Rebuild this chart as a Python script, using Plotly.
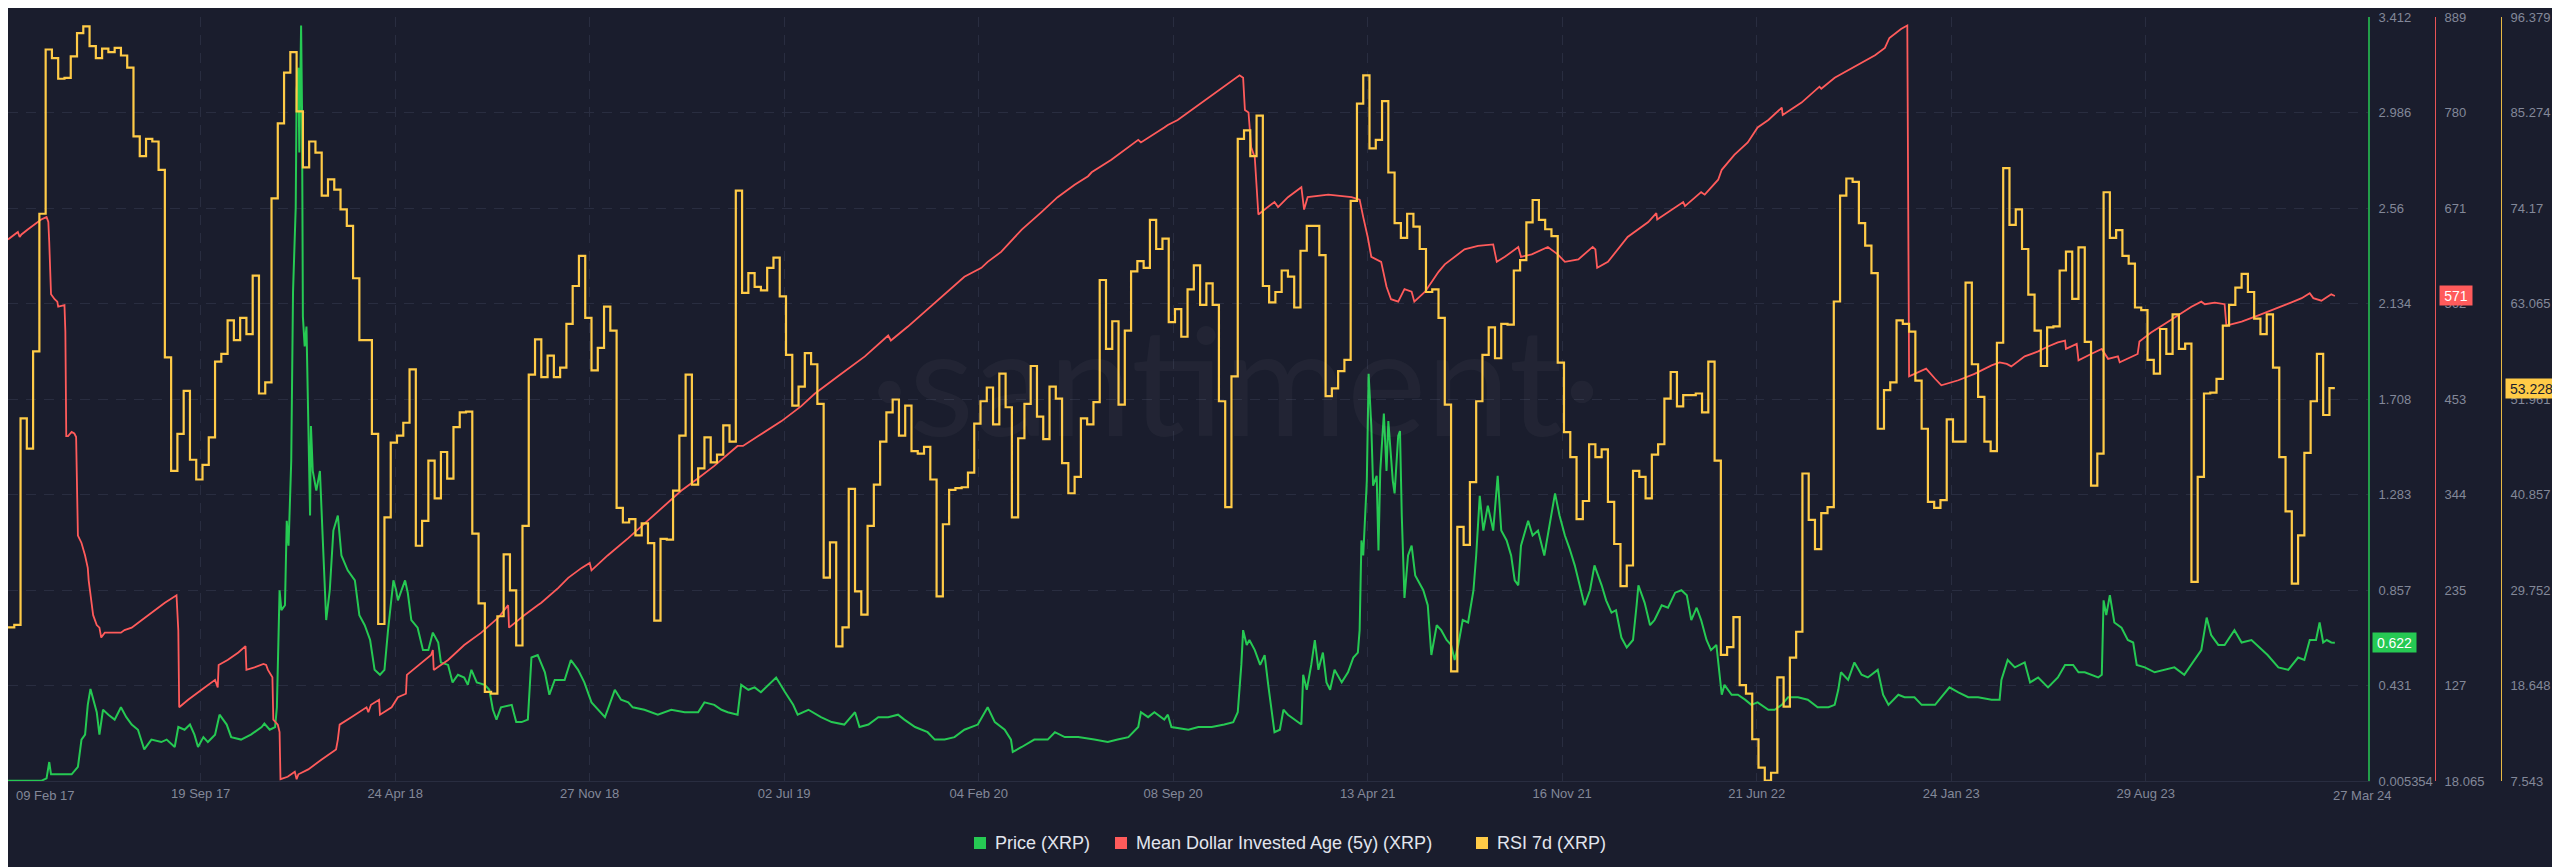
import numpy as np
import pandas as pd
import plotly.graph_objects as go

# ---------------- data ----------------
START = "2017-02-16"          # first sample of the weekly / daily grids
FIRST_LABEL = "09 Feb 17"
LAST_LABEL = "27 Mar 24"

# RSI 7d (XRP): weekly step values
rsi_weekly = [
    25.4, 25.7, 49.7, 46.2, 57.5, 73.5, 92.6, 91.6, 89.2, 89.3,
    91.8, 94.5, 95.3, 93.0, 91.6, 92.7, 92.3, 92.8, 91.9, 90.5,
    82.5, 80.2, 82.2, 81.9, 78.6, 56.8, 43.6, 47.9, 52.9, 44.9,
    42.6, 44.3, 47.5, 56.3, 57.2, 61.1, 58.8, 61.4, 59.5, 66.3,
    52.6, 53.9, 75.3, 84.0, 89.9, 92.3, 85.4, 78.9, 81.9, 80.6,
    75.6, 77.5, 76.3, 74.0, 72.1, 66.0, 58.8, 58.8, 47.9, 25.8,
    38.2, 46.9, 47.7, 49.2, 55.4, 34.9, 37.8, 44.8, 40.4, 45.8,
    42.7, 48.7, 50.4, 50.5, 36.3, 28.2, 17.9, 17.7, 26.7, 33.9,
    29.7, 23.3, 37.2, 54.8, 58.9, 54.5, 57.0, 54.5, 55.6, 60.7,
    65.1, 68.6, 61.4, 55.3, 57.9, 62.7, 59.9, 39.3, 37.6, 38.0,
    36.1, 37.5, 35.2, 26.2, 35.7, 35.6, 41.3, 47.7, 54.8, 42.0,
    43.9, 47.5, 44.6, 45.5, 48.9, 47.0, 76.2, 64.3, 66.6, 65.0,
    64.6, 67.2, 68.4, 63.9, 57.1, 51.2, 53.4, 57.3, 56.0, 51.4,
    31.2, 35.3, 23.2, 25.4, 41.5, 29.6, 26.9, 37.2, 42.0, 47.0,
    50.4, 51.9, 47.7, 51.2, 45.9, 45.6, 46.4, 42.6, 29.0, 37.4,
    41.4, 41.6, 41.7, 43.4, 49.1, 51.7, 53.3, 49.0, 54.9, 51.0,
    38.2, 47.4, 51.4, 55.8, 49.9, 47.3, 53.4, 52.0, 44.5, 41.0,
    42.9, 49.7, 49.0, 51.6, 65.8, 57.8, 61.0, 51.3, 59.9, 66.8,
    68.0, 67.2, 72.8, 69.4, 70.6, 60.9, 62.4, 59.2, 64.7, 67.5,
    62.9, 65.4, 62.9, 51.7, 39.4, 54.6, 82.2, 83.2, 80.2, 84.9,
    65.1, 63.2, 64.4, 66.9, 66.2, 62.6, 69.2, 72.1, 72.1, 68.7,
    52.3, 53.2, 55.2, 56.5, 75.0, 86.3, 89.6, 81.1, 82.1, 86.6,
    78.3, 72.4, 70.7, 73.5, 72.0, 69.4, 64.4, 64.7, 61.4, 51.3,
    20.3, 37.1, 35.0, 42.3, 51.7, 57.1, 60.3, 56.7, 60.7, 60.6,
    66.9, 68.1, 72.5, 75.1, 72.8, 71.7, 70.9, 56.2, 48.1, 45.2,
    38.0, 40.1, 46.7, 45.2, 46.1, 40.0, 35.1, 30.2, 32.6, 43.6,
    42.9, 40.4, 45.5, 46.7, 52.0, 55.1, 51.1, 52.4, 52.4, 52.6,
    50.4, 56.3, 44.8, 22.2, 23.1, 26.6, 18.7, 17.7, 12.4, 9.1,
    7.6, 8.5, 19.6, 16.2, 21.9, 24.9, 43.3, 37.9, 34.5, 38.7,
    39.4, 63.3, 75.6, 77.6, 77.2, 72.4, 69.8, 66.6, 48.5, 53.0,
    53.9, 61.1, 60.7, 59.8, 54.1, 48.5, 40.0, 39.3, 40.2, 49.6,
    47.0, 47.0, 65.5, 56.0, 52.2, 47.0, 45.9, 58.5, 78.8, 72.2,
    74.0, 69.4, 64.1, 59.9, 55.8, 60.3, 60.4, 66.9, 69.1, 63.6,
    69.6, 58.6, 41.9, 45.6, 76.0, 70.7, 71.6, 68.6, 67.7, 62.6,
    62.3, 56.5, 54.9, 60.1, 57.2, 61.8, 57.8, 58.4, 30.7, 42.9,
    52.6, 52.7, 54.3, 60.5, 62.9, 64.9, 66.5, 64.4, 61.3, 59.5,
    61.8, 55.6, 45.2, 38.9, 30.5, 36.1, 45.7, 51.7, 57.2, 50.1,
    53.228,
]

# Price (XRP): days after START, USD
price_days = [
    0, 37, 43, 46, 48, 71, 78, 82, 86, 89,
    92, 95, 99, 102, 106, 112, 119, 126, 132, 138,
    145, 152, 160, 171, 177, 186, 190, 197, 203, 208,
    212, 218, 223, 231, 236, 244, 249, 260, 271, 283,
    286, 292, 298, 300, 303, 305, 309, 311, 313, 316,
    318, 321, 322, 324, 325, 327, 328, 329, 331, 333,
    335, 337, 338, 340, 344, 348, 351, 355, 359, 363,
    368, 372, 379, 387, 392, 398, 404, 409, 415, 420,
    424, 430, 433,
    435, 443, 446, 450, 457, 463, 469, 474, 480, 483,
    491, 496, 502, 509, 513, 517, 523, 532, 537, 541,
    545, 550, 562, 567, 573, 580, 584, 591, 599, 604,
    610, 621, 628, 636, 643, 651, 658, 666, 671, 677,
    684, 692, 697, 710, 725, 740, 755, 770, 777, 788,
    796, 803, 814, 818, 826, 833, 840, 848, 857, 867,
    876, 881, 893, 907, 919, 933, 945, 950, 960, 971,
    982, 993, 1000, 1012, 1026, 1034, 1045, 1056, 1067, 1082,
    1093, 1101, 1112, 1119, 1121, 1131, 1145, 1160, 1168, 1179,
    1194, 1212, 1227, 1238, 1250, 1261, 1264, 1272, 1279, 1290,
    1294, 1298,
    1317, 1328, 1343, 1357, 1367, 1372, 1376, 1378, 1382, 1385,
    1391, 1397, 1402, 1406, 1410, 1413, 1419, 1423, 1428, 1436,
    1443, 1445, 1449, 1454, 1458, 1462, 1467, 1471, 1475, 1480,
    1488, 1495, 1501, 1506, 1508, 1510, 1512, 1516, 1518, 1521,
    1523, 1527, 1529, 1531, 1535, 1538, 1540, 1545, 1547, 1551,
    1553, 1555, 1558, 1562, 1566, 1570, 1573, 1579, 1584, 1588,
    1594, 1599, 1605, 1610, 1614, 1618, 1623, 1629, 1635, 1638,
    1642, 1646, 1651, 1657, 1662, 1666, 1672, 1677, 1681, 1685,
    1688, 1696, 1701, 1707, 1714, 1720, 1726, 1731, 1737, 1742,
    1748,
    1759, 1765, 1770, 1778, 1783, 1789, 1794, 1800, 1806, 1813,
    1817, 1819, 1826, 1832, 1837, 1845, 1852, 1860, 1867, 1873,
    1878, 1884, 1889, 1895, 1900, 1906, 1912, 1915, 1923, 1930,
    1938, 1945, 1952, 1964, 1971, 1979, 1986, 1997, 2008, 2019,
    2031, 2038, 2042, 2045, 2053, 2060, 2068, 2075, 2086, 2092,
    2098, 2109, 2116, 2127, 2135, 2142, 2150, 2157, 2166, 2176,
    2187,
    2198, 2213, 2222, 2224, 2231, 2239, 2250, 2256, 2265, 2276,
    2287, 2295, 2304, 2310, 2317, 2332, 2336, 2338, 2341, 2345,
    2350, 2358, 2365, 2371, 2375, 2384, 2395, 2406, 2417, 2428,
    2440, 2447, 2453, 2458, 2466, 2473, 2484, 2492, 2503, 2512,
    2521, 2533, 2544, 2555, 2562, 2568, 2575, 2579, 2583, 2587,
    2592, 2596,
]
price_values = [
    0.006, 0.006, 0.017, 0.090, 0.035, 0.035, 0.068, 0.190, 0.212, 0.345,
    0.416, 0.368, 0.312, 0.212, 0.323, 0.301, 0.279, 0.334, 0.290, 0.257,
    0.234, 0.146, 0.190, 0.179, 0.190, 0.157, 0.246, 0.234, 0.257, 0.212,
    0.157, 0.201, 0.179, 0.212, 0.301, 0.257, 0.201, 0.190, 0.212, 0.246,
    0.261, 0.234, 0.246, 0.334, 0.856, 0.767, 0.789, 1.166, 1.055, 1.433,
    2.187, 2.564, 3.086, 3.186, 2.808, 3.374, 3.008, 2.076, 1.943, 2.032,
    1.588, 1.189, 1.588, 1.388, 1.300, 1.388, 1.100, 0.723, 0.856, 1.122,
    1.189, 1.011, 0.945, 0.900, 0.745, 0.700, 0.634, 0.501, 0.479, 0.501,
    0.678, 0.900, 0.856,
    0.811, 0.900, 0.845, 0.723, 0.689, 0.589, 0.589, 0.667, 0.623, 0.534,
    0.523, 0.445, 0.479, 0.467, 0.434, 0.501, 0.445, 0.434, 0.412, 0.323,
    0.279, 0.334, 0.345, 0.268, 0.268, 0.279, 0.556, 0.567, 0.490, 0.390,
    0.456, 0.456, 0.545, 0.501, 0.445, 0.356, 0.323, 0.290, 0.345, 0.412,
    0.368, 0.356, 0.334, 0.323, 0.301, 0.323, 0.312, 0.312, 0.356, 0.345,
    0.323, 0.312, 0.301, 0.434, 0.412, 0.423, 0.401, 0.434, 0.467, 0.401,
    0.345, 0.301, 0.323, 0.290, 0.268, 0.257, 0.312, 0.246, 0.257, 0.290,
    0.290, 0.301, 0.279, 0.246, 0.223, 0.190, 0.190, 0.201, 0.234, 0.257,
    0.334, 0.268, 0.234, 0.190, 0.135, 0.157, 0.190, 0.190, 0.223, 0.201,
    0.201, 0.190, 0.179, 0.190, 0.201, 0.246, 0.312, 0.290, 0.312, 0.279,
    0.301, 0.246,
    0.234, 0.246, 0.246, 0.257, 0.268, 0.312, 0.523, 0.678, 0.612, 0.634,
    0.589, 0.523, 0.567, 0.434, 0.301, 0.223, 0.234, 0.323, 0.301, 0.279,
    0.257, 0.479, 0.412, 0.523, 0.634, 0.501, 0.578, 0.445, 0.412, 0.501,
    0.445, 0.490, 0.556, 0.578, 0.678, 1.078, 1.011, 1.344, 1.821, 1.588,
    1.322, 1.366, 1.033, 1.388, 1.644, 1.388, 1.610, 1.344, 1.288, 1.544,
    1.566, 1.189, 0.822, 1.011, 1.055, 0.922, 0.900, 0.856, 0.789, 0.567,
    0.700, 0.678, 0.634, 0.612, 0.545, 0.612, 0.723, 0.712, 0.856, 1.011,
    1.277, 1.122, 1.233, 1.122, 1.366, 1.122, 1.078, 1.011, 0.900, 0.878,
    1.055, 1.166, 1.100, 1.122, 1.011, 1.144, 1.288, 1.189, 1.100, 1.044,
    0.967,
    0.789, 0.856, 0.967, 0.878, 0.811, 0.756, 0.767, 0.645, 0.601, 0.634,
    0.789, 0.878, 0.800, 0.700, 0.723, 0.789, 0.778, 0.845, 0.856, 0.834,
    0.723, 0.778, 0.723, 0.634, 0.589, 0.612, 0.390, 0.434, 0.390, 0.390,
    0.368, 0.345, 0.356, 0.323, 0.323, 0.345, 0.379, 0.379, 0.368, 0.334,
    0.334, 0.345, 0.412, 0.490, 0.456, 0.534, 0.479, 0.467, 0.501, 0.390,
    0.345, 0.390, 0.379, 0.379, 0.345, 0.345, 0.345, 0.379, 0.423, 0.401,
    0.379,
    0.379, 0.368, 0.368, 0.456, 0.545, 0.512, 0.534, 0.445, 0.467, 0.423,
    0.467, 0.523, 0.523, 0.490, 0.490, 0.467, 0.479, 0.811, 0.745, 0.834,
    0.712, 0.689, 0.634, 0.623, 0.523, 0.512, 0.490, 0.501, 0.512, 0.479,
    0.545, 0.589, 0.734, 0.656, 0.612, 0.612, 0.678, 0.623, 0.634, 0.601,
    0.567, 0.512, 0.501, 0.556, 0.545, 0.634, 0.634, 0.712, 0.623, 0.634,
    0.623, 0.622,
]

# Mean Dollar Invested Age (5y) (XRP): days after START, days
mdia_days = [
    0, 7, 11, 13, 15, 22, 30, 37, 43, 45,
    46, 48, 52, 55, 56, 63, 64, 65, 67, 71,
    74, 76, 78, 82, 86, 89, 90, 93, 95, 99,
    102, 104, 108, 112, 126, 130, 138, 149, 164, 175,
    188, 190, 191, 201, 216, 231, 234, 235, 245, 257,
    265, 266, 275, 285, 288, 290, 295, 296, 301, 303,
    304, 312, 320, 322, 324, 335, 350, 366, 368, 370,
    383, 400, 402, 405, 414, 415, 428,
    435, 444, 445, 472, 474, 475, 491, 509, 528, 547,
    556, 558, 559, 576, 591, 595, 614, 625, 640, 649,
    651, 669, 692, 714, 733, 751, 770, 788, 814, 820,
    837, 863,
    885, 900, 926, 956, 982, 985, 1004, 1026, 1049, 1067,
    1086, 1093, 1108, 1131, 1153, 1171, 1190, 1205, 1209, 1231,
    1261, 1264, 1290, 1294,
    1305, 1328, 1354, 1374, 1378, 1380, 1384, 1387, 1391, 1395,
    1402, 1413, 1417, 1428, 1443, 1446, 1450, 1473, 1499, 1508,
    1512, 1517, 1521, 1532, 1538, 1543, 1551, 1558, 1566, 1569,
    1581, 1596, 1603, 1625, 1640, 1657, 1661, 1670, 1685, 1688,
    1700, 1718, 1729, 1737,
    1752, 1768, 1771, 1773, 1785, 1807, 1830, 1839, 1840, 1852,
    1869, 1871, 1889, 1893, 1908, 1912, 1919, 1926, 1941, 1952,
    1964, 1979, 1980, 2001, 2021, 2023, 2038, 2053, 2068, 2083,
    2094, 2099, 2112, 2119, 2121, 2127, 2140, 2150, 2157, 2176,
    2194, 2213, 2222, 2230, 2235, 2250, 2265, 2276, 2287, 2295,
    2296, 2308, 2310, 2324, 2336, 2343, 2354, 2356, 2369, 2376,
    2378, 2391, 2406, 2421, 2436, 2447, 2451, 2462, 2473, 2475,
    2492, 2510, 2525, 2536, 2547, 2559, 2568, 2572, 2581, 2592,
    2596,
]
mdia_values = [
    635.4, 641.1, 643.9, 638.2, 641.1, 646.8, 652.5, 658.1, 660.9, 655.3,
    632.6, 573.0, 567.3, 564.5, 558.8, 560.5, 530.5, 411.3, 411.3, 415.9,
    414.2, 410.2, 297.9, 289.4, 275.2, 261.0, 246.8, 218.5, 207.1, 195.8,
    192.9, 181.6, 187.2, 187.2, 187.2, 190.1, 192.9, 201.4, 212.8, 221.3,
    229.8, 190.1, 102.1, 110.7, 122.0, 133.4, 124.8, 150.3, 156.0, 164.5,
    171.9, 144.7, 147.5, 151.5, 150.3, 144.7, 136.2, 88.0, 82.3, 73.8,
    20.1, 22.9, 28.5, 20.1, 25.7, 31.3, 42.6, 54.0, 65.3, 82.3,
    90.8, 102.1, 96.5, 105.0, 110.7, 93.7, 102.1,
    113.5, 117.5, 139.0, 161.7, 167.4, 144.7, 156.0, 173.1, 187.2, 204.2,
    215.6, 218.5, 192.9, 207.1, 218.5, 221.3, 238.3, 249.6, 261.0, 266.7,
    258.2, 275.2, 295.0, 314.9, 331.9, 348.9, 363.1, 377.3, 400.0, 400.0,
    411.3, 428.3,
    445.4, 459.5, 479.4, 502.1, 525.9, 520.2, 536.1, 556.0, 575.9, 592.9,
    603.1, 609.9, 621.2, 646.7, 666.6, 683.6, 697.8, 707.5, 712.0, 726.2,
    748.9, 746.0, 763.1, 765.9,
    771.6, 788.6, 808.4, 822.6, 819.8, 782.9, 780.1, 740.4, 729.0, 663.8,
    669.5, 678.0, 672.3, 683.6, 695.0, 669.5, 683.6, 686.5, 683.6, 680.8,
    660.9, 638.2, 615.6, 609.9, 581.5, 567.3, 564.5, 578.7, 575.9, 564.5,
    575.9, 598.5, 607.0, 624.1, 628.0, 629.8, 609.9, 615.6, 626.9, 615.6,
    618.4, 626.9, 618.4, 609.9,
    612.7, 626.9, 624.1, 603.1, 609.9, 638.2, 655.3, 665.5, 658.1, 666.6,
    678.0, 673.4, 689.3, 686.5, 703.5, 714.8, 723.3, 731.9, 746.0, 763.1,
    771.6, 785.7, 777.2, 791.4, 809.6, 807.3, 819.8, 828.3, 836.8, 845.3,
    853.8, 865.1, 875.4, 879.4, 479.4, 482.2, 488.1, 476.6, 469.2, 474.9,
    482.2, 491.9, 495.3, 493.6, 490.7, 502.1, 507.8, 513.4, 518.0, 520.2,
    510.6, 516.3, 497.6, 504.9, 510.6, 499.3, 502.1, 495.3, 502.1, 504.9,
    519.1, 529.3, 539.0, 548.6, 558.8, 564.5, 561.6, 563.3, 561.6, 537.3,
    541.8, 548.6, 554.3, 558.8, 563.4, 568.5, 574.1, 568.5, 565.6, 573.0,
    571.0,
]

# axes
x_tick_dates = ["2017-09-19", "2018-04-24", "2018-11-27", "2019-07-02", "2020-02-04",
                "2020-09-08", "2021-04-13", "2021-11-16", "2022-06-21", "2023-01-24",
                "2023-08-29"]
x_tick_text = ["19 Sep 17", "24 Apr 18", "27 Nov 18", "02 Jul 19", "04 Feb 20",
               "08 Sep 20", "13 Apr 21", "16 Nov 21", "21 Jun 22", "24 Jan 23",
               "29 Aug 23"]
price_range = [0.005354, 3.412]
price_ticks = ["0.005354", "0.431", "0.857", "1.283", "1.708", "2.134", "2.56", "2.986", "3.412"]
mdia_range = [18.065, 889]
mdia_ticks = ["18.065", "127", "235", "344", "453", "562", "671", "780", "889"]
rsi_range = [7.543, 96.379]
rsi_ticks = ["7.543", "18.648", "29.752", "40.857", "51.961", "63.065", "74.17", "85.274", "96.379"]

names = ["Price (XRP)", "Mean Dollar Invested Age (5y) (XRP)", "RSI 7d (XRP)"]

assert len(price_days) == len(price_values)
assert len(mdia_days) == len(mdia_values)

# ---------------- build ----------------
GREEN = "#26c953"
RED = "#ff5b5b"
YELLOW = "#ffcb47"
BG = "#1a1d2d"
GRID = "#292d40"
TICK = "#838899"
FONT = "Liberation Sans"

W, H = 2560, 867
PLOT_R = 2360
start = pd.Timestamp(START)
price_x = start + pd.to_timedelta(price_days, unit="D")
mdia_x = start + pd.to_timedelta(mdia_days, unit="D")
end = start + pd.Timedelta(days=price_days[-1])
rsi_x = list(start + pd.to_timedelta(np.arange(len(rsi_weekly)) * 7, unit="D")) + [end]
rsi_y = list(rsi_weekly) + [rsi_weekly[-1]]

fig = go.Figure()
fig.add_trace(go.Scatter(x=rsi_x, y=rsi_y, name=names[2], yaxis="y3", mode="lines",
                         line=dict(color=YELLOW, width=2.2, shape="hv")))
fig.add_trace(go.Scatter(x=mdia_x, y=mdia_values, name=names[1], yaxis="y2", mode="lines",
                         line=dict(color=RED, width=1.8)))
fig.add_trace(go.Scatter(x=price_x, y=price_values, name=names[0], yaxis="y", mode="lines",
                         line=dict(color=GREEN, width=2.0)))

x_end = start + pd.Timedelta(days=2633)
tickfont = dict(family=FONT, size=13, color=TICK)

def yax(rng, labels, **kw):
    d = dict(range=rng, tickvals=list(np.linspace(rng[0], rng[1], len(labels))),
             ticktext=labels, side="right", ticks="", tickfont=tickfont,
             zeroline=False, showline=True, ticklabelstandoff=6)
    d.update(kw)
    return d

fig.update_layout(
    width=W, height=H,
    margin=dict(l=0, r=0, t=9, b=94),
    paper_bgcolor=BG, plot_bgcolor=BG,
    showlegend=False,
    xaxis=dict(domain=[0, PLOT_R / W], type="date", range=[start, x_end],
               tickvals=x_tick_dates, ticktext=x_tick_text, ticks="",
               tickfont=tickfont, showgrid=True, gridcolor=GRID, griddash="10px,8px",
               gridwidth=1, zeroline=False, showline=True, linecolor=GRID, linewidth=1),
    yaxis=yax(price_range, price_ticks, anchor="x", showgrid=True, gridcolor=GRID,
              griddash="10px,8px", gridwidth=1, linecolor="rgba(38,201,83,0.75)", linewidth=2),
    yaxis2=yax(mdia_range, mdia_ticks, overlaying="y", anchor="free", position=2427 / W,
               showgrid=False, linecolor="rgba(255,91,91,0.9)", linewidth=1),
    yaxis3=yax(rsi_range, rsi_ticks, overlaying="y", anchor="free", position=2493 / W,
               showgrid=False, linecolor="rgba(255,203,71,0.9)", linewidth=1),
)

def py(px):  # pixel row -> paper y
    return (773 - px) / 764.0

ann = []
# watermark
ann.append(dict(text="\u00b7santiment\u00b7", xref="paper", yref="paper", x=1228 / W, y=py(370),
                showarrow=False, font=dict(family="Lato", size=150, color="rgba(255,255,255,0.035)")))
# edge date labels
ann.append(dict(text=FIRST_LABEL, xref="x", yref="paper", x=start, y=py(787), xanchor="left",
                yanchor="middle", xshift=6, showarrow=False, font=tickfont))
ann.append(dict(text=LAST_LABEL, xref="x", yref="paper", x=end, y=py(787), xanchor="left",
                yanchor="middle", xshift=-4, showarrow=False, font=tickfont))
# last-value badges
ann.append(dict(text=f"{price_values[-1]:.3f}", xref="paper", yref="y", x=2364 / W, y=price_values[-1],
                xanchor="left", yanchor="middle", showarrow=False, bgcolor=GREEN, width=41, height=17,
                font=dict(family=FONT, size=14, color="#ffffff")))
ann.append(dict(text=f"{mdia_values[-1]:.0f}", xref="paper", yref="y2", x=2431 / W, y=mdia_values[-1],
                xanchor="left", yanchor="middle", showarrow=False, bgcolor=RED, width=30, height=17,
                font=dict(family=FONT, size=14, color="#ffffff")))
ann.append(dict(text=f"{rsi_weekly[-1]:.3f}", xref="paper", yref="y3", x=2497 / W, y=rsi_weekly[-1],
                xanchor="left", yanchor="middle", showarrow=False, bgcolor=YELLOW, width=49, height=17,
                font=dict(family=FONT, size=14, color="#1a1d2d")))
# legend
shapes = []
leg = [(966, 985, GREEN, names[0]), (1107, 1126, RED, names[1]), (1468, 1487, YELLOW, names[2])]
for sx, tx, col, nm in leg:
    shapes.append(dict(type="rect", xref="paper", yref="paper", x0=sx / W, x1=(sx + 12) / W,
                       y0=py(841), y1=py(829), fillcolor=col, line=dict(width=0)))
    ann.append(dict(text=nm, xref="paper", yref="paper", x=tx / W, y=py(835), xanchor="left",
                    yanchor="middle", showarrow=False,
                    font=dict(family=FONT, size=18, color="#e2e5ee")))
fig.update_layout(annotations=ann, shapes=shapes)

fig.write_html("out.html")
